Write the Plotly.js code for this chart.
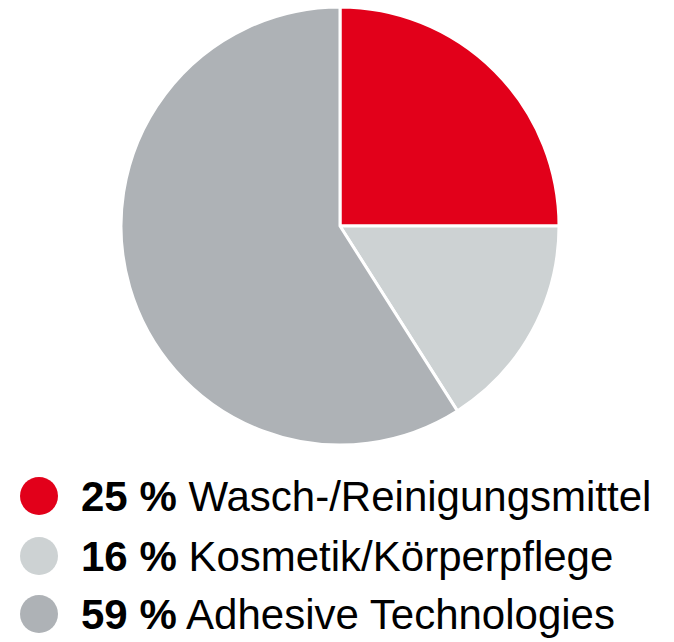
<!DOCTYPE html>
<html>
<head>
<meta charset="utf-8">
<script src="https://cdn.plot.ly/plotly-3.0.1.min.js"></script>
<style>
  body { margin: 0; background: #fff; }
  #chart { width: 674px; height: 642px; }
</style>
</head>
<body>
<div id="chart"></div>
<script>
var labels = ['Wasch-/Reinigungsmittel', 'Kosmetik/Körperpflege', 'Adhesive Technologies'];
var shares = [25, 16, 59];
var colors = ['#e2001a', '#cdd2d3', '#aeb2b6'];

var W = 674, H = 642;
// pie centre and radius in pixels
var cx = 340, cy = 226, r = 219;

var trace = {
  type: 'pie',
  labels: labels,
  values: shares,
  sort: false,
  direction: 'clockwise',
  rotation: 0,
  textinfo: 'none',
  hoverinfo: 'label+percent',
  showlegend: false,
  marker: { colors: colors, line: { color: '#ffffff', width: 3 } },
  domain: {
    x: [(cx - r) / W, (cx + r) / W],
    y: [1 - (cy + r) / H, 1 - (cy - r) / H]
  }
};

// legend built by hand: round dots + bold percentages
var shapes = [];
var annotations = [];
var rowY = [496, 556, 614];
for (var i = 0; i < labels.length; i++) {
  var py = 1 - rowY[i] / H;
  shapes.push({
    type: 'circle',
    xref: 'paper', yref: 'paper',
    xsizemode: 'pixel', ysizemode: 'pixel',
    xanchor: 39 / W, yanchor: py,
    x0: -19, x1: 19, y0: -19, y1: 19,
    fillcolor: colors[i],
    line: { width: 0 }
  });
  annotations.push({
    xref: 'paper', yref: 'paper',
    x: 79 / W, y: py,
    xanchor: 'left', yanchor: 'middle',
    showarrow: false,
    text: '<b>' + shares[i] + ' %</b> ' + labels[i],
    font: { family: 'Liberation Sans, Arial, sans-serif', size: 42, color: '#000' }
  });
}

var layout = {
  width: W,
  height: H,
  margin: { l: 0, r: 0, t: 0, b: 0 },
  paper_bgcolor: '#ffffff',
  shapes: shapes,
  annotations: annotations
};

Plotly.newPlot('chart', [trace], layout, { displayModeBar: false });
</script>
</body>
</html>
